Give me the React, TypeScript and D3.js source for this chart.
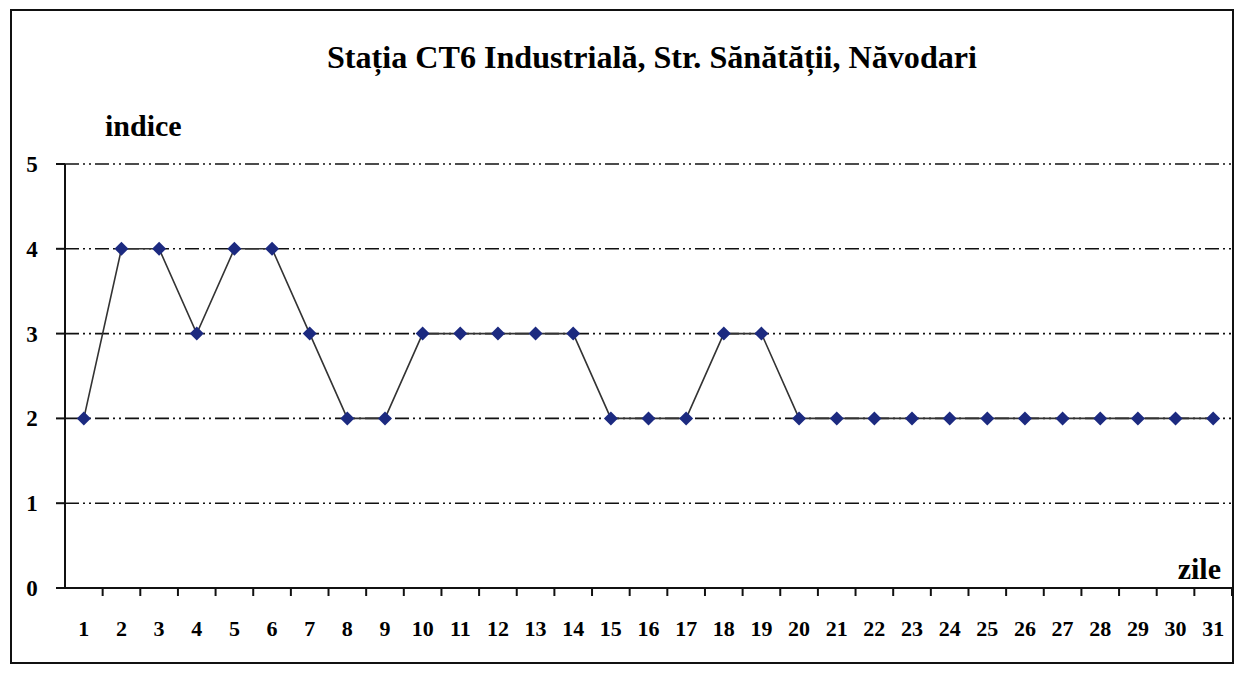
import React, { useEffect, useRef } from "react";
import { select, scaleBand, scaleLinear, line } from "d3";

const days = Array.from({ length: 31 }, (_, i) => String(i + 1));
const indice = [2, 4, 4, 3, 4, 4, 3, 2, 2, 3, 3, 3, 3, 3, 2, 2, 2, 3, 3, 2, 2, 2, 2, 2, 2, 2, 2, 2, 2, 2, 2];
const yTicks = [0, 1, 2, 3, 4, 5];
const title = "Stația CT6 Industrială, Str. Sănătății, Năvodari";

const W = 1242;
const H = 674;
const font = "'Liberation Serif', 'DejaVu Serif', serif";

export default function App() {
    const svgRef: any = useRef();

    useEffect(() => {
        const svg = select(svgRef.current);
        svg.selectAll("*").remove();

        const left = 65;
        const right = 1232;
        const top = 164;
        const bottom = 588;

        const x: any = scaleBand().domain(days).range([left, right]);
        const y = scaleLinear().domain([0, 5]).range([bottom, top]);

        svg.append("rect").attr("width", W).attr("height", H).attr("fill", "#fff");

        // frame
        svg.append("rect")
            .attr("x", 11).attr("y", 10)
            .attr("width", 1222).attr("height", 653)
            .attr("fill", "none").attr("stroke", "#111").attr("stroke-width", 2);

        svg.append("text")
            .attr("x", 652).attr("y", 68)
            .attr("text-anchor", "middle")
            .attr("font-family", font).attr("font-weight", "bold").attr("font-size", 31)
            .attr("textLength", 650).attr("lengthAdjust", "spacingAndGlyphs")
            .text(title);

        // grid
        svg.append("g").selectAll("line")
            .data(yTicks.filter((d) => d > 0))
            .join("line")
            .attr("x1", left).attr("x2", right)
            .attr("y1", (d) => y(d)).attr("y2", (d) => y(d))
            .attr("stroke", "#111").attr("stroke-width", 1.6)
            .attr("stroke-dasharray", "14 4 2 4 2 4");

        // axes
        svg.append("line").attr("x1", left).attr("x2", left).attr("y1", y(5)).attr("y2", bottom)
            .attr("stroke", "#111").attr("stroke-width", 2);
        svg.append("line").attr("x1", left - 8).attr("x2", right).attr("y1", bottom).attr("y2", bottom)
            .attr("stroke", "#111").attr("stroke-width", 2);

        svg.append("g").selectAll("line")
            .data(yTicks)
            .join("line")
            .attr("x1", left - 9).attr("x2", left)
            .attr("y1", (d) => y(d)).attr("y2", (d) => y(d))
            .attr("stroke", "#111").attr("stroke-width", 2);

        svg.append("g").selectAll("text")
            .data(yTicks)
            .join("text")
            .attr("x", 32).attr("y", (d) => y(d) + 8)
            .attr("text-anchor", "middle")
            .attr("font-family", font).attr("font-weight", "bold").attr("font-size", 23)
            .text((d) => d);

        const tickXs = days.map((d) => x(d) + x.bandwidth());
        svg.append("g").selectAll("line")
            .data(tickXs)
            .join("line")
            .attr("x1", (d) => d).attr("x2", (d) => d)
            .attr("y1", bottom).attr("y2", bottom + 8)
            .attr("stroke", "#111").attr("stroke-width", 2);

        svg.append("g").selectAll("text")
            .data(days)
            .join("text")
            .attr("x", (d) => x(d) + x.bandwidth() / 2)
            .attr("y", 636)
            .attr("text-anchor", "middle")
            .attr("font-family", font).attr("font-weight", "bold").attr("font-size", 22)
            .text((d) => d);

        svg.append("text")
            .attr("x", 105).attr("y", 136)
            .attr("font-family", font).attr("font-weight", "bold").attr("font-size", 30)
            .text("indice");

        svg.append("text")
            .attr("x", 1221).attr("y", 579)
            .attr("text-anchor", "end")
            .attr("font-family", font).attr("font-weight", "bold").attr("font-size", 30)
            .text("zile");

        const pts = indice.map((v, i) => [x(days[i]) + x.bandwidth() / 2, y(v)] as [number, number]);

        svg.append("path")
            .attr("d", line()(pts) as string)
            .attr("fill", "none").attr("stroke", "#333").attr("stroke-width", 1.6);

        svg.append("g").selectAll("path")
            .data(pts)
            .join("path")
            .attr("transform", (d) => `translate(${d[0]},${d[1]})`)
            .attr("d", "M0,-7L7,0L0,7L-7,0Z")
            .attr("fill", "#1c2a80");
    }, []);

    return (
        <div style={{ position: "absolute", left: 0, top: 0 }}>
            <svg ref={svgRef} width={W} height={H} style={{ display: "block" }} />
        </div>
    );
}
